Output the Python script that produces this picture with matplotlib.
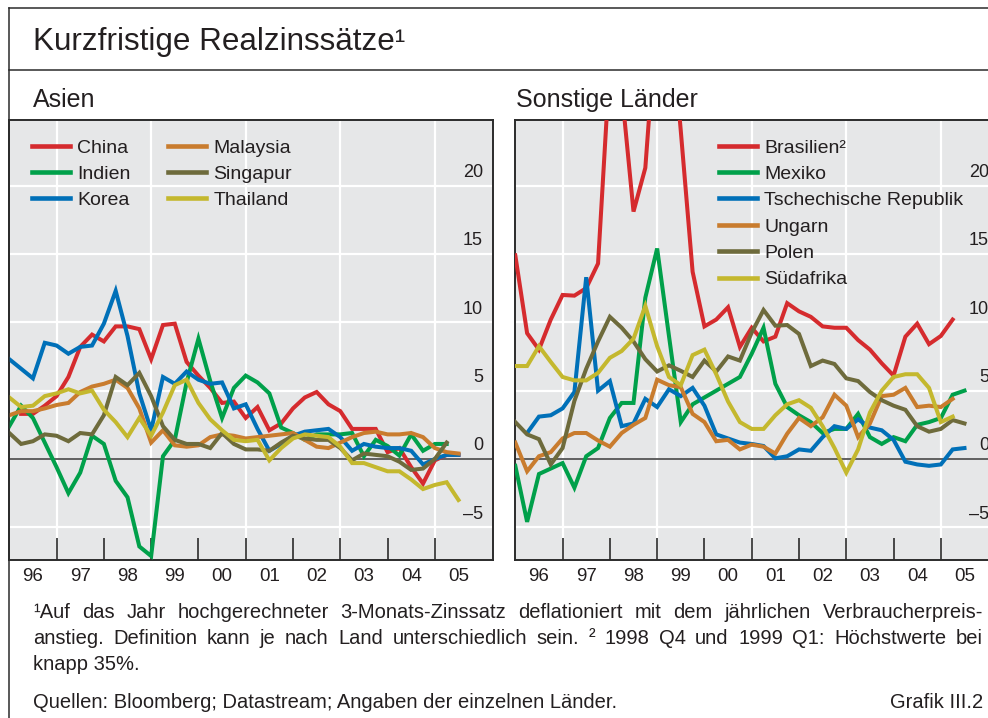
import numpy as np
import matplotlib
matplotlib.use("Agg")
import matplotlib.pyplot as plt
from matplotlib.lines import Line2D
from matplotlib import transforms

plt.rcParams['font.family'] = ['Liberation Sans', 'DejaVu Sans']

W, H = 988, 718
nan = np.nan

# quarterly observations, 1996 Q1 .. 2005 Q3
quarters = 1996 + 0.25 * np.arange(39)

china = [nan, 3.3, 3.3, 3.9, 4.6, 6.0, 8.2, 9.1, 8.6, 9.7, 9.7, 9.5, 7.3, 9.8, 9.9, 7.1, 6.1, 5.2, 4.1, 4.2,
         3.0, 3.8, 2.1, 2.6, 3.7, 4.5, 4.9, 4.0, 3.5, 2.2, 2.2, 2.2, 0.5, 0.8, -0.6, -1.8, -0.1, 0.3, 0.3]
india = [2.4, 3.9, 3.0, 1.2, -0.6, -2.5, -1.0, 1.7, 1.1, -1.6, -2.8, -6.4, -7.1, 0.2, 1.4, 5.6, 8.8, 5.7, 3.0, 5.2,
         6.1, 5.6, 4.8, 2.3, 1.9, 1.4, 1.8, 1.8, 1.8, 1.9, 0.2, 1.4, 0.95, 0.25, 1.8, 0.6, 1.1, 1.1, nan]
korea = [7.3, 6.6, 5.9, 8.5, 8.3, 7.7, 8.2, 8.3, 9.9, 12.3, 9.0, 4.8, 2.1, 6.0, 5.5, 6.4, 5.8, 5.5, 5.6, 3.7,
         4.0, 2.2, 0.6, 1.1, 1.7, 2.0, 2.1, 2.2, 1.6, 0.6, 1.1, 0.9, 0.8, 0.8, 0.6, -0.4, 0.0, 0.3, 0.3]
malaysia = [3.2, 3.5, 3.5, 3.7, 3.95, 4.1, 4.9, 5.3, 5.5, 5.8, 5.2, 3.7, 1.2, 2.1, 1.0, 0.9, 1.0, 1.6, 1.8, 1.7,
            1.5, 1.6, 1.7, 1.8, 1.9, 1.4, 0.9, 0.8, 1.2, 1.6, 1.9, 2.0, 1.8, 1.8, 1.9, 1.6, 0.8, 0.5, 0.4]
singapore = [1.9, 1.1, 1.3, 1.8, 1.7, 1.3, 1.9, 1.8, 3.2, 6.0, 5.4, 6.3, 4.6, 2.4, 1.4, 1.1, 1.1, 0.8, 1.9, 1.1,
             0.7, 0.7, 0.6, 1.2, 1.7, 1.5, 1.4, 1.4, 0.8, -0.1, 0.4, 0.3, 0.2, -0.2, -0.8, -0.7, 0.0, 1.2, nan]
thailand = [4.5, 3.8, 3.9, 4.6, 4.8, 5.1, 4.8, 5.0, 3.6, 2.7, 1.6, 3.0, 1.7, 3.4, 5.4, 5.8, 4.1, 2.9, 2.1, 1.4,
            1.3, 1.4, -0.1, 0.8, 1.5, 1.8, 1.7, 1.6, 0.9, -0.3, -0.3, -0.6, -0.9, -0.9, -1.5, -2.2, -1.9, -1.7, -3.0]

brazil = [14.9, 9.2, 8.0, 10.2, 12.0, 11.95, 12.5, 14.3, 29, 27, 18.1, 21.3, 33, 34, 24, 13.7, 9.7, 10.2, 11.1, 8.2,
          9.6, 8.6, 8.95, 11.4, 10.8, 10.4, 9.7, 9.6, 9.6, 8.7, 8.0, 7.0, 6.1, 8.95, 9.9, 8.4, 9.0, 10.2, nan]
mexico = [-0.5, -4.6, -1.1, -0.7, -0.3, -2.1, 0.2, 0.8, 3.0, 4.1, 4.1, 11.8, 15.4, 9.0, 2.7, 4.0, 4.5, 5.0, 5.5, 6.0,
          7.7, 9.6, 5.5, 3.8, 3.2, 2.7, 1.9, 2.2, 2.2, 3.3, 1.6, 1.1, 1.6, 1.3, 2.5, 2.7, 3.0, 4.7, 5.0]
czech = [nan, 1.9, 3.1, 3.2, 3.7, 4.9, 13.3, 5.0, 5.7, 2.4, 2.6, 4.4, 3.8, 5.1, 4.6, 5.2, 3.9, 1.8, 1.5, 1.2,
         1.1, 0.95, 0.05, 0.2, 0.7, 0.6, 1.6, 2.4, 2.2, 2.9, 2.3, 2.1, 1.4, -0.2, -0.4, -0.5, -0.4, 0.7, 0.8]
hungary = [1.2, -0.9, 0.2, 0.5, 1.5, 1.9, 1.9, 1.35, 0.9, 1.9, 2.5, 3.0, 5.8, 5.4, 5.25, 3.3, 2.7, 1.3, 1.4, 0.7,
           1.05, 0.9, 0.4, 1.85, 3.0, 2.4, 3.05, 4.7, 3.9, 1.6, 2.6, 4.6, 4.7, 5.2, 3.8, 3.9, 3.8, 4.4, nan]
poland = [2.7, 1.8, 1.45, -0.4, 0.8, 4.25, 6.6, 8.6, 10.4, 9.6, 8.6, 7.3, 6.4, 6.85, 6.45, 6.0, 7.2, 6.4, 7.5, 7.2,
          9.25, 10.9, 9.75, 9.8, 9.15, 6.8, 7.2, 6.95, 5.9, 5.7, 4.9, 4.3, 3.9, 3.6, 2.4, 2.0, 2.2, 2.85, 2.6]
south_africa = [6.8, 6.8, 8.25, 7.1, 6.0, 5.75, 5.75, 6.3, 7.4, 7.9, 8.8, 11.2, 8.25, 6.0, 5.4, 7.6, 8.0, 6.2, 4.2, 2.7,
                2.2, 2.2, 3.2, 4.0, 4.3, 3.75, 2.4, 0.8, -1.0, 0.7, 3.4, 5.0, 6.0, 6.2, 6.2, 5.2, 2.7, 3.1, nan]

asia_labels = ['China', 'Indien', 'Korea', 'Malaysia', 'Singapur', 'Thailand']
other_labels = ['Brasilien²', 'Mexiko', 'Tschechische Republik', 'Ungarn', 'Polen', 'Südafrika']
year_labels = ['96', '97', '98', '99', '00', '01', '02', '03', '04', '05']
ytick_values = [-5, 0, 5, 10, 15, 20]
ytick_labels = ['–5', '0', '5', '10', '15', '20']

colors = ['#d52b2e', '#00a04a', '#0070b8', '#c97c2e', '#6e6b3c', '#c4b82e']
BG = '#e6e7e8'
DARK = '#2b2b2b'
TXT = '#231f20'

fig = plt.figure(figsize=(W / 100, H / 100), dpi=100)


def px(x, y):
    return x / W, 1 - y / H


def panel(left_px, series, labels, ncol, leg_x):
    ax = fig.add_axes([left_px / W, 158 / H, 483.7 / W, 440 / H])
    ax.set_facecolor(BG)
    ax.set_xlim(1996, 2006.23)
    ax.set_ylim(-7.39, 24.8)
    for v in [-5, 5, 10, 15, 20]:
        ax.axhline(v, color='white', lw=1.6, zorder=1)
    for yr in [1997, 1999, 2001, 2003, 2005]:
        ax.axvline(yr, color='white', lw=1.6, zorder=1)
    ax.axhline(0, color='#555555', lw=1.3, zorder=2)
    for s, lab, c in zip(series, labels, colors):
        ax.plot(quarters, s, color=c, lw=2.9, label=lab, zorder=3, solid_joinstyle='miter')
    for sp in ax.spines.values():
        sp.set_color(DARK)
        sp.set_linewidth(1.4)
    # year ticks inside, labels centred between them
    ax.set_xticks(np.arange(1997, 2006))
    ax.set_xticklabels([])
    ax.tick_params(axis='x', which='major', direction='in', length=16, width=1.2, color=DARK, top=False)
    ax.set_xticks(np.arange(1996.5, 2006), minor=True)
    ax.set_xticklabels(year_labels, minor=True)
    ax.tick_params(axis='x', which='minor', length=0, pad=6, labelsize=13.5, labelcolor=TXT)
    ax.set_yticks([])
    tr = transforms.offset_copy(ax.get_yaxis_transform(), fig=fig, x=-10, y=13, units='dots')
    for v, t in zip(ytick_values, ytick_labels):
        ax.text(1, v, t, transform=tr, ha='right', va='center', fontsize=13, color=TXT)
    leg = ax.legend(loc='upper left', bbox_to_anchor=(leg_x, 0.957), ncol=ncol, frameon=False,
                    fontsize=14, handlelength=1.95, handletextpad=0.36, columnspacing=1.96,
                    labelspacing=0.45, borderpad=0, borderaxespad=0)
    for t in leg.get_texts():
        t.set_color(TXT)
    for h in leg.get_lines():
        h.set_linewidth(3.3)
    return ax


panel(9.3, [china, india, korea, malaysia, singapore, thailand], asia_labels, 2, 0.047)
panel(515.3, [brazil, mexico, czech, hungary, poland, south_africa], other_labels, 1, 0.4217)

# outer frame
for (x0, y0, x1, y1) in [(9, 8, W, 8), (9, 70, W, 70), (9, 8, 9, H)]:
    fig.add_artist(Line2D([x0 / W, x1 / W], [1 - y0 / H, 1 - y1 / H], color=DARK, lw=1.1))

fig.text(*px(33, 42), 'Kurzfristige Realzinssätze¹', fontsize=22.6, va='center', color=TXT)
fig.text(*px(33, 100), 'Asien', fontsize=18, va='center', color=TXT)
fig.text(*px(516, 100), 'Sonstige Länder', fontsize=18, va='center', color=TXT)

FN = 14.5


def justify(words, y, x0=33, x1=983):
    objs = [fig.text(0, 1 - y / H, w, fontsize=FN, va='center', color=TXT) for w in words]
    r = fig.canvas.get_renderer()
    widths = [t.get_window_extent(r).width for t in objs]
    gap = (x1 - x0 - sum(widths)) / (len(words) - 1)
    x = x0
    for t, w in zip(objs, widths):
        t.set_x(x / W)
        x += w + gap


justify('¹Auf das Jahr hochgerechneter 3-Monats-Zinssatz deflationiert mit dem jährlichen Verbraucherpreis-'.split(), 612)
justify('anstieg. Definition kann je nach Land unterschiedlich sein. ² 1998 Q4 und 1999 Q1: Höchstwerte bei'.split(), 638)
fig.text(*px(33, 664), 'knapp 35%.', fontsize=FN, va='center', color=TXT)
fig.text(*px(33, 703), 'Quellen: Bloomberg; Datastream; Angaben der einzelnen Länder.', fontsize=FN, va='center', color=TXT)
fig.text(*px(983, 703), 'Grafik III.2', fontsize=FN, va='center', ha='right', color=TXT)

fig.savefig('out.png', dpi=100)
